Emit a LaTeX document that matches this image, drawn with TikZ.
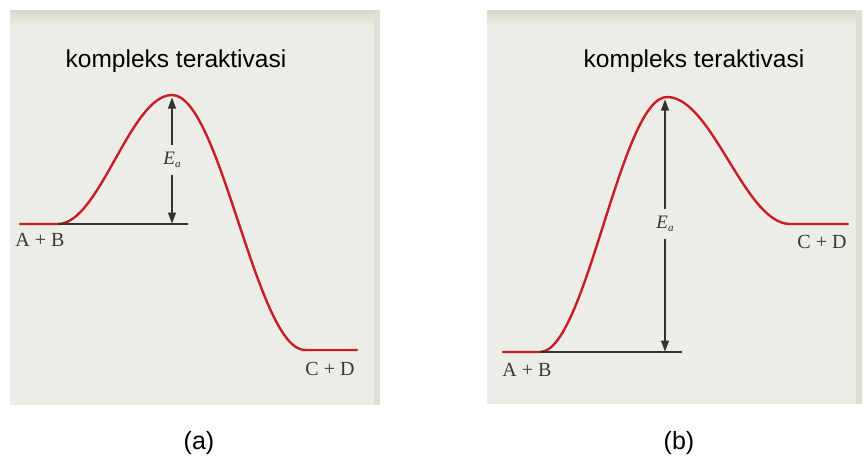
\documentclass[tikz,border=0pt]{standalone}
\usepackage{fontspec}
\setmainfont{Liberation Serif}
\setsansfont{Liberation Sans}
\usetikzlibrary{arrows.meta}
\definecolor{panelc}{RGB}{237,237,231}
\definecolor{bandc}{RGB}{216,216,206}
\definecolor{edgec}{RGB}{220,224,212}
\definecolor{curvec}{RGB}{200,28,38}
\definecolor{linec}{RGB}{50,50,50}
\begin{document}
\begin{tikzpicture}[x=1pt,y=-1pt,
  panel/.style={fill=panelc},
  energy/.style={draw=curvec,line width=2.4pt,line join=round,line cap=round},
  baseln/.style={draw=linec,line width=1.1pt},
  eaarrow/.style={draw=linec,line width=1.1pt,-{Triangle[width=8pt,length=11pt]}},
  titletext/.style={font=\sffamily\fontsize{24.5}{28}\selectfont,text=black},
  species/.style={font=\fontsize{20}{24}\selectfont,text=black!78},
  ealabel/.style={font=\fontsize{19}{22}\selectfont,text=black!80,inner xsep=1pt,inner ysep=7pt},
  captiontext/.style={font=\sffamily\fontsize{25}{30}\selectfont}]
\useasboundingbox (0,0) rectangle (867,461);
\fill[white] (0,0) rectangle (867,461);

% ---------- panel (a) ----------
\fill[panel] (10,10) rectangle (380,405);
\shade[top color=bandc,bottom color=panelc] (10,10) rectangle (380,26);
\fill[edgec] (374,10) rectangle (380,405);
\node[titletext] (ta) at (176,61) {kompleks teraktivasi};

\coordinate (a0) at (20,224);
\coordinate (a1) at (58,224);
\coordinate (apk) at (172,95);
\coordinate (a2) at (305,350);
\coordinate (a3) at (357,350);
\draw[energy] (a0) -- (a1) .. controls (99.5,224) and (130.5,95) .. (apk)
  .. controls (220.4,95) and (256.6,350) .. (a2) -- (a3);
\coordinate (abend) at (188,224);
\draw[baseln] (a1) -- (abend);
\coordinate (atop) at (172,97.5);
\coordinate (abot) at (172,223.5);
\node[ealabel] (ea1) at (172,160) {\itshape E\raisebox{-0.35ex}{\fontsize{11}{11}\selectfont a}};
\draw[eaarrow] (ea1) -- (atop);
\draw[eaarrow] (ea1) -- (abot);
\node[species] (ab1) at (40,240) {A + B};
\node[species] (cd1) at (330,369) {C + D};
\node[captiontext] (capa) at (199,443) {(a)};

% ---------- panel (b) ----------
\fill[panel] (487,10) rectangle (862,404);
\shade[top color=bandc,bottom color=panelc] (487,10) rectangle (862,26);
\fill[edgec] (856,10) rectangle (862,404);
\node[titletext] (tb) at (694,61) {kompleks teraktivasi};

\coordinate (b0) at (503,352);
\coordinate (b1) at (540,352);
\coordinate (bpk) at (667,97);
\coordinate (b2) at (790,224);
\coordinate (b3) at (848,224);
\draw[energy] (b0) -- (b1) .. controls (586,352) and (621,97) .. (bpk)
  .. controls (712,97) and (745,224) .. (b2) -- (b3);
\coordinate (bbend) at (682,352);
\draw[baseln] (b1) -- (bbend);
\coordinate (btop) at (665,99.5);
\coordinate (bbot) at (665,351.5);
\node[ealabel] (ea2) at (665,224) {\itshape E\raisebox{-0.35ex}{\fontsize{11}{11}\selectfont a}};
\draw[eaarrow] (ea2) -- (btop);
\draw[eaarrow] (ea2) -- (bbot);
\node[species] (ab2) at (527,370) {A + B};
\node[species] (cd2) at (822,242) {C + D};
\node[captiontext] (capb) at (679,443) {(b)};
\end{tikzpicture}
\end{document}
